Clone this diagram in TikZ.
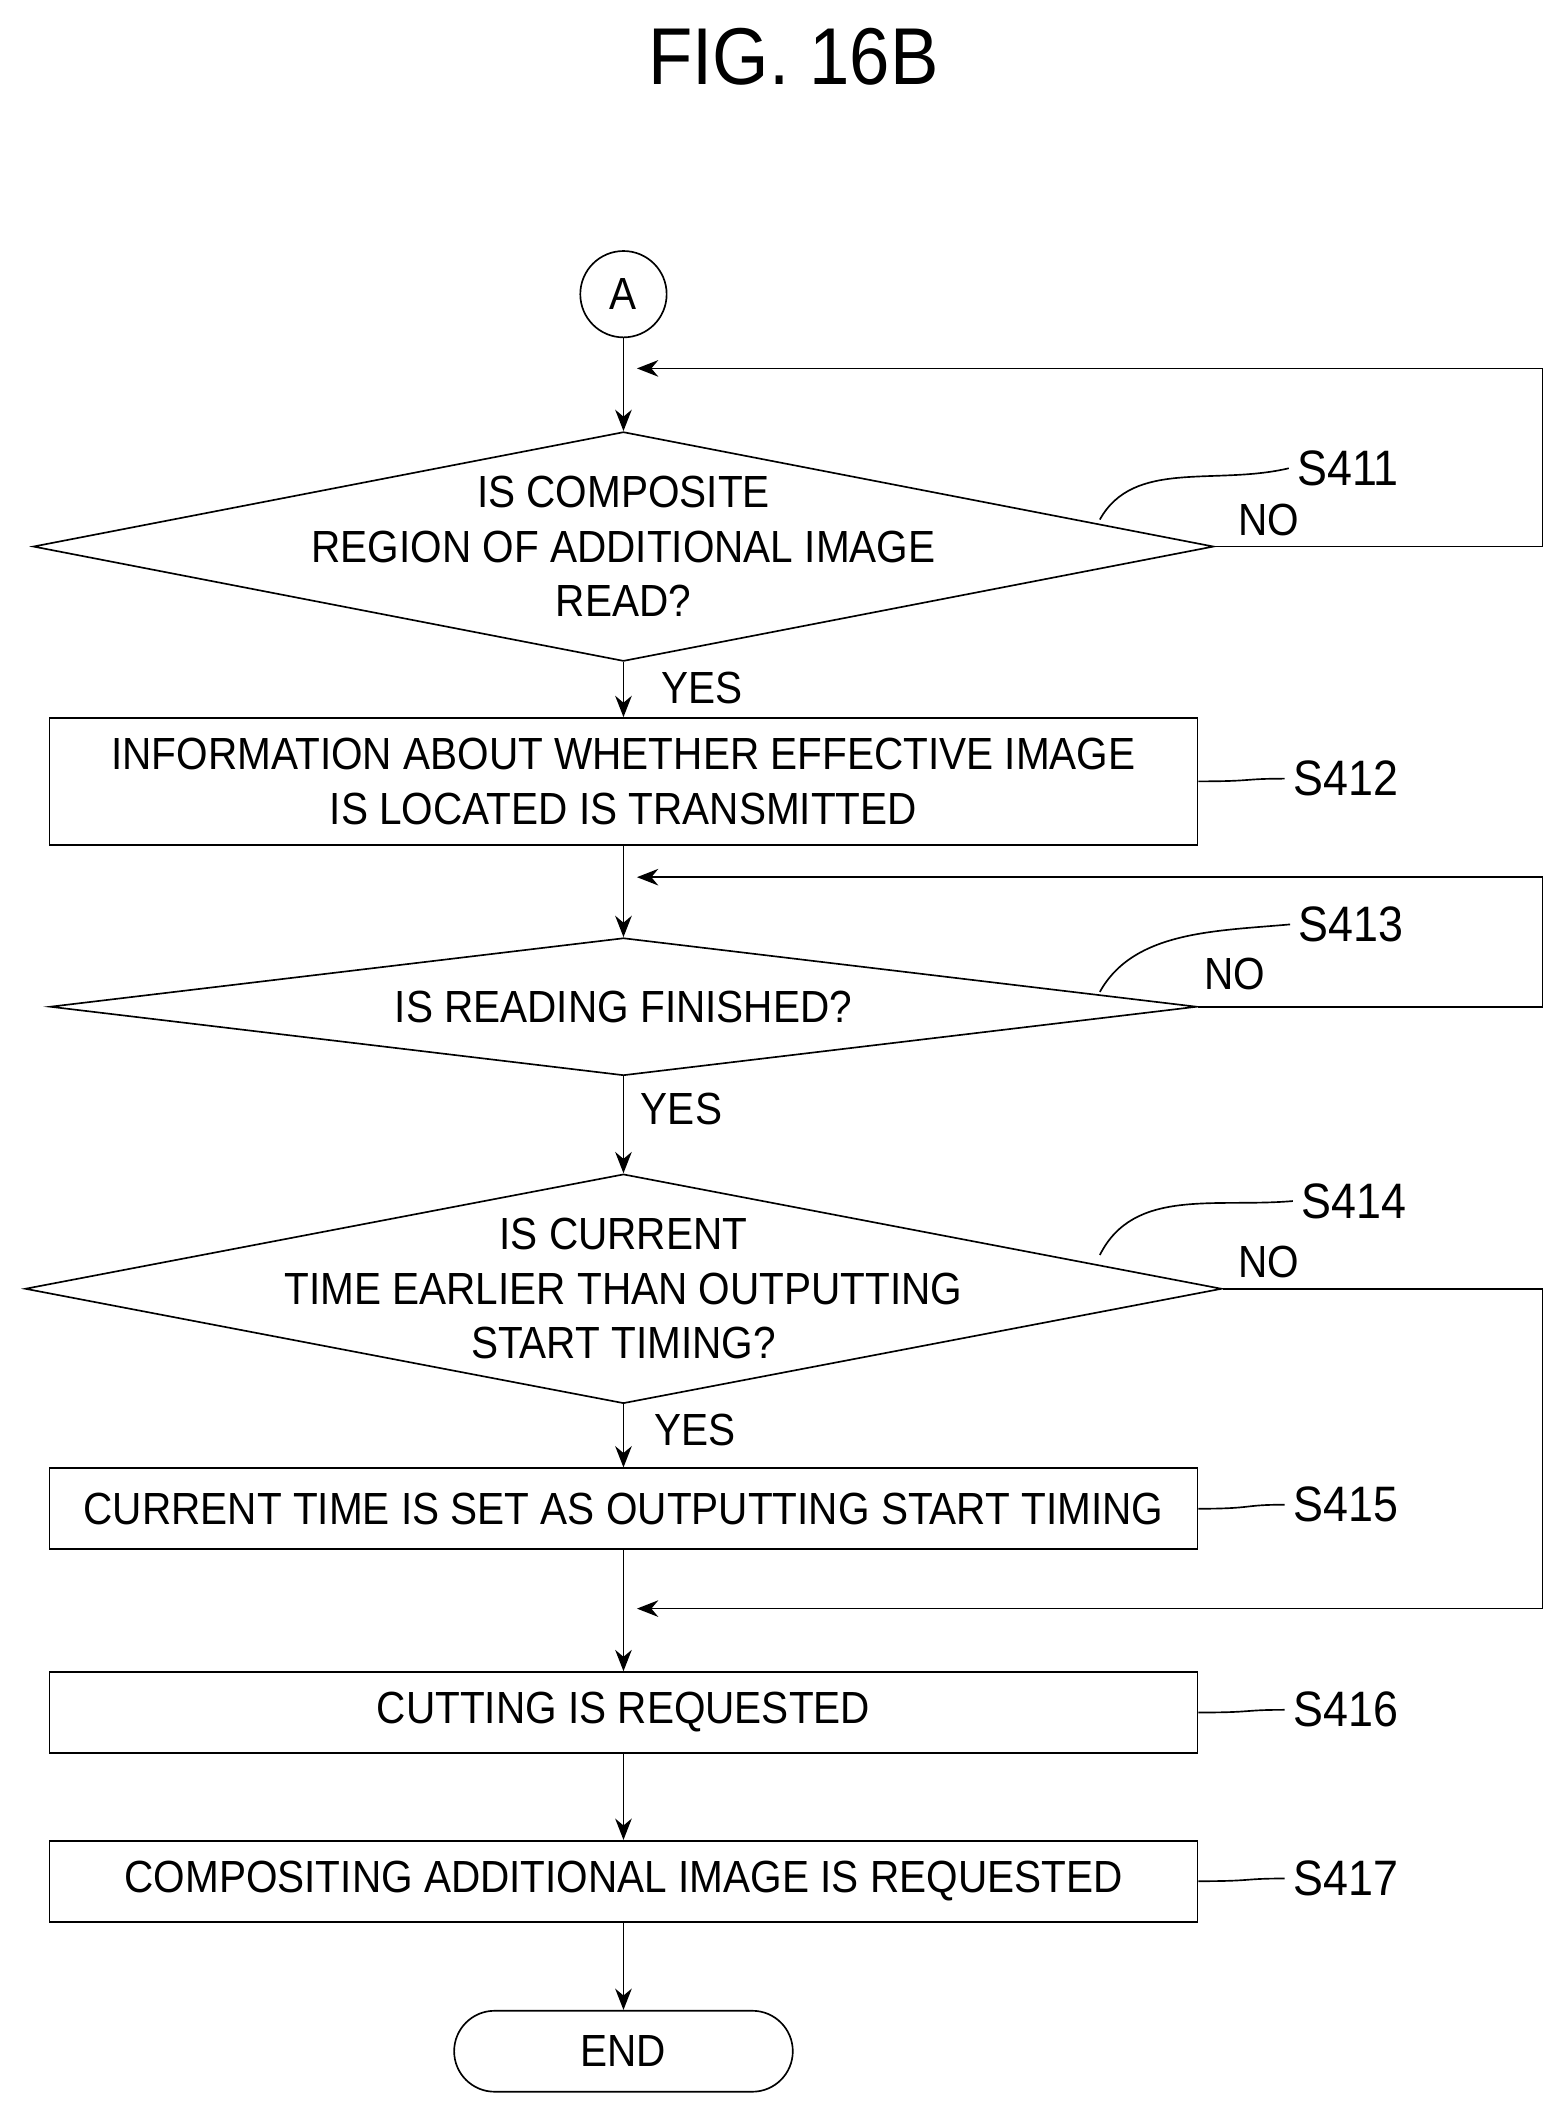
\documentclass[tikz,border=0pt]{standalone}
\usepackage{fontspec}
\setmainfont{Liberation Sans}[FakeStretch=0.9]
\usetikzlibrary{shapes.geometric,arrows.meta}
\tikzset{
  box/.style={draw, minimum width=17.02cm, inner sep=0pt, align=center},
  diam/.style={draw, diamond, inner sep=0pt},
  txt/.style={align=center, font=\fontsize{19}{23}\selectfont},
  steplbl/.style={font=\fontsize{21}{25}\selectfont},
  arr/.style={-{Stealth[length=9pt,width=7pt]}}
}
\begin{document}
\begin{tikzpicture}[x=0.02cm, y=-0.02cm, line width=0.7pt]
			\useasboundingbox (0,0) rectangle (1160,1568);
			\node[font=\fontsize{34}{40}\selectfont] (title) at (588,42) {FIG. 16B};
			\node[draw, circle, minimum size=1.28cm, inner sep=0pt, txt] (A) at (462,218) {A};
			% S411
			\node[diam, minimum width=17.5cm, minimum height=3.4cm] (q411) at (462,405) {};
			\node[txt] (t411) at (462,405) {IS COMPOSITE\\REGION OF ADDITIONAL IMAGE\\READ?};
			\node[box, minimum height=1.88cm, txt] (s412) at (462,579) {INFORMATION ABOUT WHETHER EFFECTIVE IMAGE\\IS LOCATED IS TRANSMITTED};
			% S413
			\node[diam, minimum width=17cm, minimum height=2.04cm] (q413) at (462,746) {};
			\node[txt] (t413) at (462,746) {IS READING FINISHED?};
			% S414
			\node[diam, minimum width=17.74cm, minimum height=3.4cm] (q414) at (462,955) {};
			\node[txt] (t414) at (462,955) {IS CURRENT\\TIME EARLIER THAN OUTPUTTING\\START TIMING?};
			\node[box, minimum height=1.2cm, txt] (s415) at (462,1118) {CURRENT TIME IS SET AS OUTPUTTING START TIMING};
			\node[box, minimum height=1.2cm, txt] (s416) at (462,1269) {CUTTING IS REQUESTED};
			\node[box, minimum height=1.2cm, txt] (s417) at (462,1394) {COMPOSITING ADDITIONAL IMAGE IS REQUESTED};
			\node[draw, rounded corners=0.6cm, minimum width=5.02cm, minimum height=1.2cm, txt] (end) at (462,1520) {END};
			% merge points
			\coordinate (m1) at (462,273);
			\coordinate (m2) at (462,650);
			\coordinate (m3) at (462,1192);
			% main flow
			\draw[arr] (A) -- (q411.north);
			\draw[arr] (q411.south) -- (s412);
			\draw[arr] (s412) -- (q413.north);
			\draw[arr] (q413.south) -- (q414.north);
			\draw[arr] (q414.south) -- (s415);
			\draw[arr] (s415) -- (s416);
			\draw[arr] (s416) -- (s417);
			\draw[arr] (s417) -- (end);
			% loops
			\draw[arr] (q411.east) -- (1143,405) -- (1143,273) -- ([xshift=0.2cm]m1);
			\draw[arr] (q413.east) -- (1143,746) -- (1143,650) -- ([xshift=0.2cm]m2);
			\draw[arr] (q414.east) -- (1143,955) -- (1143,1192) -- ([xshift=0.2cm]m3);
			% labels
			\node[txt] (y411) at (520,510) {YES};
			\node[txt] (y413) at (505,822) {YES};
			\node[txt] (y414) at (515,1060) {YES};
			\node[txt] (n411) at (940,385) {NO};
			\node[txt] (n413) at (915,722) {NO};
			\node[txt] (n414) at (940,935) {NO};
			\node[steplbl, anchor=west] (l411) at (955,347) {S411};
			\node[steplbl, anchor=west] (l412) at (952,577) {S412};
			\node[steplbl, anchor=west] (l413) at (956,685) {S413};
			\node[steplbl, anchor=west] (l414) at (958,890) {S414};
			\node[steplbl, anchor=west] (l415) at (952,1115) {S415};
			\node[steplbl, anchor=west] (l416) at (952,1267) {S416};
			\node[steplbl, anchor=west] (l417) at (952,1392) {S417};
			% leaders
			\draw (815,385) .. controls (840,340) and (900,360) .. (l411.west);
			\draw (s412.east) .. controls (930,579) and (920,577) .. (l412.west);
			\draw (815,735) .. controls (840,690) and (900,690) .. (l413.west);
			\draw (815,930) .. controls (840,880) and (900,895) .. (l414.west);
			\draw (s415.east) .. controls (930,1118) and (920,1115) .. (l415.west);
			\draw (s416.east) .. controls (930,1269) and (920,1267) .. (l416.west);
			\draw (s417.east) .. controls (930,1394) and (920,1392) .. (l417.west);
		\end{tikzpicture}
\end{document}
